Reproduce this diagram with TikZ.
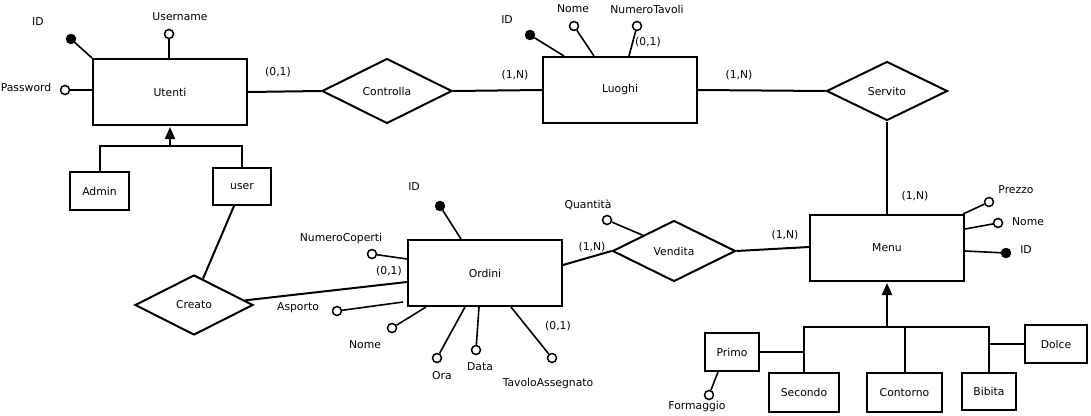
\documentclass[tikz,border=0pt]{standalone}
\usepackage{fontspec}
\setmainfont{DejaVu Sans}
\usetikzlibrary{shapes.geometric,arrows.meta,calc}
\begin{document}
\begin{tikzpicture}[x=1pt,y=-1pt,
 font=\fontsize{10.8}{12}\selectfont,
 ent/.style={draw,line width=2pt,rectangle,inner sep=0pt},
 rel/.style={draw,line width=2pt,diamond,inner sep=0pt},
 conn/.style={line width=2pt},
 attr/.style={line width=1.6pt},
 oattr/.style={draw,circle,line width=1.5pt,fill=white,minimum size=9pt,inner sep=0pt},
 kattr/.style={draw,circle,fill=black,minimum size=10pt,inner sep=0pt},
 lbl/.style={inner sep=0pt},
 isa/.style={line width=2pt,-{Triangle[width=10pt,length=12pt]}},
]
\fill[white] (0,0) rectangle (1091,415);
\useasboundingbox (0,0) rectangle (1091,415);

% entities
\node[ent,minimum width=154pt,minimum height=66pt] (utenti) at (170,92) {Utenti};
\node[ent,minimum width=154pt,minimum height=66pt] (luoghi) at (620,90) {Luoghi};
\node[ent,minimum width=154pt,minimum height=66pt] (ordini) at (485,273) {Ordini};
\node[ent,minimum width=154pt,minimum height=66pt] (menu) at (887,248) {Menu};
\node[ent,minimum width=59pt,minimum height=38pt] (admin) at (99.5,191) {Admin};
\node[ent,minimum width=58pt,minimum height=37pt] (user) at (242,186.5) {user};
\node[ent,minimum width=54pt,minimum height=38pt] (primo) at (732,352) {Primo};
\node[ent,minimum width=70pt,minimum height=39pt] (secondo) at (804,392.5) {Secondo};
\node[ent,minimum width=75pt,minimum height=39pt] (contorno) at (904.5,392.5) {Contorno};
\node[ent,minimum width=54pt,minimum height=37pt] (bibita) at (989,391.5) {Bibita};
\node[ent,minimum width=62pt,minimum height=38pt] (dolce) at (1056,344) {Dolce};

% relationships
\node[rel,minimum width=130pt,minimum height=65pt] (controlla) at (387,91) {Controlla};
\node[rel,minimum width=121pt,minimum height=59pt] (servito) at (887,91) {Servito};
\node[rel,minimum width=123pt,minimum height=61pt] (vendita) at (674,251) {Vendita};
\node[rel,minimum width=118pt,minimum height=60pt] (creato) at (194,305) {Creato};

% connectors
\draw[conn] (utenti.east) -- (controlla.west);
\draw[conn] (controlla.east) -- (luoghi.west);
\draw[conn] (luoghi.east) -- (servito.west);
\draw[conn] (servito.south) -- (menu.north);
\draw[conn] (vendita.east) -- ([yshift=1pt]menu.west);
\draw[conn] ([yshift=8pt]ordini.east) -- (vendita.west);
\draw[conn] ([xshift=-8pt]user.south) -- ($(creato.north)!0.15!(creato.east)$);
\draw[conn] ($(creato.east)!0.15!(creato.north)$) -- ([yshift=-9pt]ordini.west);

% ISA Utenti
\coordinate (uisa) at (170,146);
\draw[conn] (admin.north) |- (user.north |- uisa) -- (user.north);
\draw[isa] (uisa) -- ([yshift=-1pt]utenti.south);

% ISA Menu
\coordinate (misa) at (887,327);
\draw[isa] (misa) -- ([yshift=-1pt]menu.south);
\draw[conn] (secondo.north) |- (bibita.north |- misa) -- (bibita.north);
\draw[conn] (contorno.north) -- (contorno.north |- misa);
\draw[conn] (primo.east) -- (primo.east -| secondo.north);
\draw[conn] (dolce.west) -- (dolce.west -| bibita.north);

% Utenti attributes
\node[kattr] (uid) at (71,39) {};
\draw[attr] (uid) -- (utenti.north west);
\node[lbl] (uidl) at (38,22) {ID};
\node[oattr] (uuser) at (169,34) {};
\draw[attr] (uuser) -- (uuser |- utenti.north);
\node[lbl] (uuserl) at (180,17) {Username};
\node[oattr] (upass) at (65,90) {};
\draw[attr] (upass) -- (upass -| utenti.west);
\node[lbl] (upassl) at (26,87) {Password};

% Luoghi attributes
\node[kattr] (lid) at (530,35) {};
\draw[attr] (lid) -- ([xshift=22pt]luoghi.north west);
\node[lbl] (lidl) at (507,20) {ID};
\node[oattr] (lnome) at (574,26) {};
\draw[attr] (lnome) -- ([xshift=52pt]luoghi.north west);
\node[lbl] (lnomel) at (573,9) {Nome};
\node[oattr] (lnum) at (637,26) {};
\draw[attr] (lnum) -- ([xshift=87pt]luoghi.north west);
\node[lbl] (lnuml) at (647,9) {NumeroTavoli};
\node[lbl] (lnumc) at (648,42) {(0,1)};

% Menu attributes
\node[oattr] (mprezzo) at (989,202) {};
\draw[attr] ([xshift=-2pt]menu.north east) -- (mprezzo);
\node[lbl] (mprezzol) at (1016,190) {Prezzo};
\node[oattr] (mnome) at (998,223) {};
\draw[attr] ([yshift=-15pt]menu.north east) -- (mnome);
\node[lbl] (mnomel) at (1028,222) {Nome};
\node[kattr] (mid) at (1006,253) {};
\draw[attr] ([yshift=-3pt]menu.east) -- (mid);
\node[lbl] (midl) at (1026,250) {ID};

% Ordini attributes
\node[kattr] (oid) at (440,206) {};
\draw[attr] (oid) -- ([xshift=54pt]ordini.north west);
\node[lbl] (oidl) at (414,187) {ID};
\node[oattr] (ocop) at (372,254) {};
\draw[attr] (ocop) -- ([yshift=-20pt]ordini.north west);
\node[lbl] (ocopl) at (341,239) {NumeroCoperti};
\node[oattr] (oasp) at (337,311) {};
\draw[attr] (oasp) -- ([xshift=-4pt,yshift=5pt]ordini.south west);
\node[lbl] (oaspl) at (298,308) {Asporto};
\node[oattr] (onome) at (392,328) {};
\draw[attr] (onome) -- ([xshift=19pt]ordini.south west);
\node[lbl] (onomel) at (365,345) {Nome};
\node[oattr] (oora) at (437,358) {};
\draw[attr] (oora) -- ([xshift=58pt]ordini.south west);
\node[lbl] (ooral) at (442,376) {Ora};
\node[oattr] (odata) at (476,350) {};
\draw[attr] (odata) -- ([xshift=72pt]ordini.south west);
\node[lbl] (odatal) at (480,367) {Data};
\node[oattr] (otav) at (552,358) {};
\draw[attr] (otav) -- ([xshift=104pt]ordini.south west);
\node[lbl] (otavl) at (548,384) {TavoloAssegnato};
\node[lbl] (otavc) at (558,326) {(0,1)};

% Vendita attribute
\node[oattr] (vq) at (607,220) {};
\draw[attr] (vq) -- ($(vendita.west)!0.5!(vendita.north)$);
\node[lbl] (vql) at (588,205) {Quantità};

% Primo attribute
\node[oattr] (pf) at (709,395) {};
\draw[attr] (pf) -- ([xshift=14pt]primo.south west);
\node[lbl] (pfl) at (697,407) {Formaggio};

% cardinalities
\node[lbl] (c1) at (278,72) {(0,1)};
\node[lbl] (c2) at (515,75) {(1,N)};
\node[lbl] (c3) at (739,75) {(1,N)};
\node[lbl] (c4) at (915,196) {(1,N)};
\node[lbl] (c5) at (592,247) {(1,N)};
\node[lbl] (c6) at (785,235) {(1,N)};
\node[lbl] (c7) at (389,271) {(0,1)};
\end{tikzpicture}
\end{document}
